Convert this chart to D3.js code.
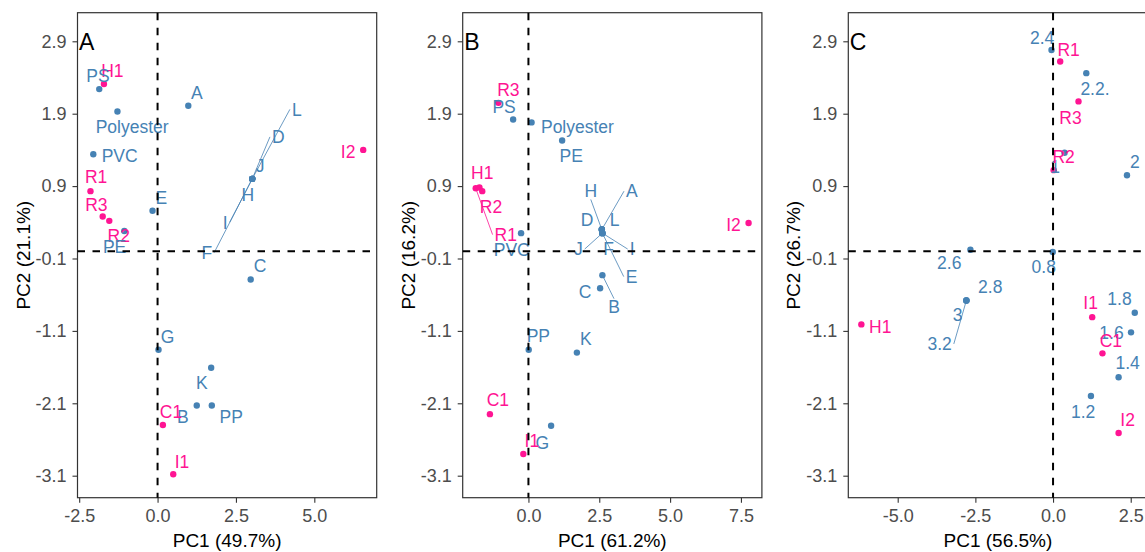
<!DOCTYPE html>
<html><head><meta charset="utf-8">
<script src="https://cdn.jsdelivr.net/npm/d3@7"></script>
<style>
html,body{margin:0;padding:0;background:#fff;}
svg{display:block;font-family:"Liberation Sans",Arial,sans-serif;}
</style></head><body>
<svg id="chart" width="1145" height="552"></svg>
<script>
// ---------- shared ----------
const yTicks = [-3.1, -2.1, -1.1, -0.1, 0.9, 1.9, 2.9];
const yDomain = [-3.404, 3.295];
const groupColors = {sample: "#FF1493", ref: "#4682B4"};

// ---------- Panel A ----------
const aLetter = "A";
const aXTitle = "PC1 (49.7%)";
const aYTitle = "PC2 (21.1%)";
const aXTicks = [-2.5, 0, 2.5, 5];
const aXDomain = [-2.554, 6.99];
const aNames = ["H1","PS","A","Polyester","PVC","R1","E","R3","R2","PE","I2","L","D","J","H","I","F","C","G","K","B","PP","C1","I1"];
const aGroup = ["sample","ref","ref","ref","ref","sample","ref","sample","sample","ref","sample","ref","ref","ref","ref","ref","ref","ref","ref","ref","ref","ref","sample","sample"];
const aPC1 = [-1.71,-1.86,0.98,-1.28,-2.05,-2.14,-0.16,-1.75,-1.54,-1.06,6.56,3.02,3.02,3.02,3.02,3.02,3.02,2.97,0.03,1.71,1.25,1.73,0.17,0.50];
const aPC2 = [2.31,2.24,2.01,1.93,1.34,0.83,0.56,0.48,0.42,0.28,1.40,1.00,1.00,1.00,1.00,1.00,1.00,-0.39,-1.36,-1.61,-2.13,-2.13,-2.40,-3.08];
const aLabPC1 = [-1.44,-1.90,1.25,-0.81,-1.21,-1.96,0.12,-1.95,-1.24,-1.37,6.08,4.44,3.85,3.27,2.88,2.16,1.57,3.27,0.32,1.41,0.81,2.35,0.43,0.78];
const aLabPC2 = [2.49,2.43,2.19,1.72,1.32,1.03,0.74,0.64,0.21,0.06,1.37,1.96,1.58,1.18,0.78,0.40,-0.02,-0.20,-1.18,-1.82,-2.29,-2.29,-2.21,-2.90];

// ---------- Panel B ----------
const bLetter = "B";
const bXTitle = "PC1 (61.2%)";
const bYTitle = "PC2 (16.2%)";
const bXTicks = [0, 2.5, 5, 7.5];
const bXDomain = [-2.32, 8.24];
const bNames = ["R3","PS","Polyester","PE","R1","H1","R2","PVC","H","A","D","L","J","F","I","E","B","C","PP","K","C1","G","I1","I2"];
const bGroup = ["sample","ref","ref","ref","sample","sample","sample","ref","ref","ref","ref","ref","ref","ref","ref","ref","ref","ref","ref","ref","sample","ref","sample","sample"];
const bPC1 = [-1.06,-0.54,0.11,1.19,-1.86,-1.73,-1.63,-0.26,2.59,2.59,2.59,2.59,2.61,2.61,2.61,2.61,2.61,2.53,0.01,1.71,-1.36,0.80,-0.18,7.77];
const bPC2 = [2.05,1.82,1.78,1.53,0.87,0.88,0.83,0.25,0.30,0.30,0.30,0.30,0.25,0.25,0.25,0.25,-0.33,-0.51,-1.36,-1.40,-2.25,-2.41,-2.80,0.39];
const bLabPC1 = [-0.71,-0.86,1.73,1.51,-0.80,-1.63,-1.32,-0.59,2.20,3.65,2.07,3.04,1.76,2.83,3.66,3.64,3.02,2.00,0.35,2.03,-1.08,0.49,0.12,7.24];
const bLabPC2 = [2.23,2.00,1.72,1.32,0.23,1.08,0.61,0.02,0.83,0.83,0.44,0.44,0.03,0.03,0.03,-0.35,-0.77,-0.56,-1.17,-1.21,-2.05,-2.64,-2.61,0.37];

// ---------- Panel C ----------
const cLetter = "C";
const cXTitle = "PC1 (56.5%)";
const cYTitle = "PC2 (26.7%)";
const cXTicks = [-5, -2.5, 0, 2.5];
const cXDomain = [-6.59, 3.04];
const cNames = ["2.4","R1","2.2.","R3","1","R2","2","2.6","0.8","2.8","3","3.2","H1","I1","1.8","1.6","C1","1.4","1.2","I2"];
const cGroup = ["ref","sample","ref","sample","ref","sample","ref","ref","ref","ref","ref","ref","sample","sample","ref","ref","sample","ref","ref","sample"];
const cPC1 = [-0.05,0.23,1.07,0.82,0.37,0.02,2.38,-2.66,-0.01,-2.79,-2.79,-2.79,-6.17,1.26,2.63,2.51,1.59,2.11,1.22,2.11];
const cPC2 = [2.78,2.62,2.46,2.07,1.36,1.12,1.05,0.02,-0.01,-0.68,-0.68,-0.68,-1.01,-0.91,-0.85,-1.12,-1.41,-1.74,-2.00,-2.51];
const cLabPC1 = [-0.35,0.50,1.35,0.56,0.07,0.34,2.63,-3.34,-0.30,-2.02,-3.07,-3.65,-5.56,1.21,2.14,1.88,1.86,2.40,0.97,2.40];
const cLabPC2 = [2.95,2.79,2.24,1.85,1.17,1.31,1.24,-0.16,-0.21,-0.49,-0.88,-1.28,-1.04,-0.71,-0.66,-1.12,-1.23,-1.54,-2.22,-2.33];

// ---------- drawing ----------
const svg = d3.select("#chart");
const plotTop = 12.7, plotBottom = 497.7, plotW = 299.2;
const plotLefts = [77.5, 462.7, 848.3];

const panels = [
  {letter:aLetter, xTitle:aXTitle, yTitle:aYTitle, xTicks:aXTicks, xDomain:aXDomain, names:aNames, group:aGroup, px:aPC1, py:aPC2, lx:aLabPC1, ly:aLabPC2},
  {letter:bLetter, xTitle:bXTitle, yTitle:bYTitle, xTicks:bXTicks, xDomain:bXDomain, names:bNames, group:bGroup, px:bPC1, py:bPC2, lx:bLabPC1, ly:bLabPC2},
  {letter:cLetter, xTitle:cXTitle, yTitle:cYTitle, xTicks:cXTicks, xDomain:cXDomain, names:cNames, group:cGroup, px:cPC1, py:cPC2, lx:cLabPC1, ly:cLabPC2}
];

const labelSize = 17.5;

panels.forEach((p, i) => {
  const left = plotLefts[i];
  const x = d3.scaleLinear().domain(p.xDomain).range([left, left + plotW]);
  const y = d3.scaleLinear().domain(yDomain).range([plotBottom, plotTop]);
  const g = svg.append("g");

  const rows = p.names.map((n, k) => ({
    name: n, color: groupColors[p.group[k]],
    x: x(p.px[k]), y: y(p.py[k]), lx: x(p.lx[k]), ly: y(p.ly[k])
  }));

  // axes
  const xAxis = d3.axisBottom(x).tickValues(p.xTicks).tickFormat(d => d.toFixed(1)).tickSize(5).tickPadding(7);
  const yAxis = d3.axisLeft(y).tickValues(yTicks).tickFormat(d => d.toFixed(1)).tickSize(5).tickPadding(6);
  const gx = g.append("g").attr("transform", `translate(0,${plotBottom})`).call(xAxis);
  const gy = g.append("g").attr("transform", `translate(${left},0)`).call(yAxis);
  [gx, gy].forEach(ax => {
    ax.select(".domain").remove();
    ax.selectAll(".tick line").attr("stroke", "#333").attr("stroke-width", 1.1);
    ax.selectAll(".tick text").attr("fill", "#4d4d4d").attr("font-size", 18)
      .attr("font-family", '"Liberation Sans",Arial,sans-serif');
  });

  // panel border
  g.append("rect").attr("x", left).attr("y", plotTop)
    .attr("width", plotW).attr("height", plotBottom - plotTop)
    .attr("fill", "none").attr("stroke", "#333").attr("stroke-width", 1.2);

  // points
  g.append("g").selectAll("circle").data(rows).join("circle")
    .attr("cx", d => d.x).attr("cy", d => d.y).attr("r", 3.2)
    .attr("fill", d => d.color);

  // labels (measure) + segments
  const segG = g.append("g");
  const labG = g.append("g");
  const texts = labG.selectAll("text").data(rows).join("text")
    .attr("x", d => d.lx).attr("y", d => d.ly).attr("dy", "0.36em")
    .attr("text-anchor", "middle").attr("font-size", labelSize)
    .attr("fill", d => d.color).text(d => d.name);

  texts.each(function(d) {
    const w = this.getComputedTextLength();
    const h = labelSize * 0.72;
    const l = d.lx - w / 2 - 2, r = d.lx + w / 2 + 2;
    const t = d.ly - h / 2 - 2, b = d.ly + h / 2 + 2;
    const hgap = Math.max(0, l - d.x, d.x - r);
    const vgap = Math.max(0, t - d.y, d.y - b);
    const dist = Math.hypot(hgap, vgap);
    if (dist > 16) {
      let ex, ey;
      if (hgap > 0.3 * vgap) {
        ex = d.x < l ? l : r; ey = d.ly;
      } else {
        ex = d.lx; ey = d.y < t ? t : b;
      }
      segG.append("line").attr("x1", d.x).attr("y1", d.y).attr("x2", ex).attr("y2", ey)
        .attr("stroke", d.color).attr("stroke-width", 0.8);
    }
  });

  // dashed reference lines at 0
  g.append("line").attr("x1", left).attr("x2", left + plotW).attr("y1", y(0)).attr("y2", y(0))
    .attr("stroke", "#000").attr("stroke-width", 2).attr("stroke-dasharray", "7.5,7.5");
  g.append("line").attr("x1", x(0)).attr("x2", x(0)).attr("y1", plotTop).attr("y2", plotBottom)
    .attr("stroke", "#000").attr("stroke-width", 2).attr("stroke-dasharray", "7.5,7.5");

  // panel letter
  g.append("text").attr("x", left + 1.5).attr("y", y(2.9)).attr("dy", "0.36em")
    .attr("font-size", 23).attr("fill", "#000").text(p.letter);

  // axis titles
  g.append("text").attr("x", left + plotW / 2).attr("y", 547)
    .attr("text-anchor", "middle").attr("font-size", 19).attr("fill", "#000").text(p.xTitle);
  g.append("text").attr("transform", `translate(${left - 48},${(plotTop + plotBottom) / 2}) rotate(-90)`)
    .attr("text-anchor", "middle").attr("font-size", 19).attr("fill", "#000").text(p.yTitle);
});
</script></body></html>
